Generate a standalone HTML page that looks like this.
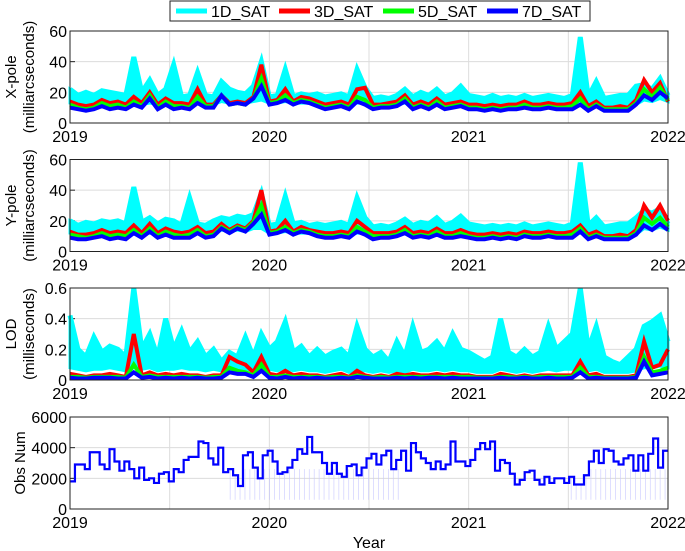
<!DOCTYPE html>
<html><head><meta charset="utf-8"><style>
body{margin:0;background:#fff;}
svg{display:block;font-family:"Liberation Sans",sans-serif;}
</style></head><body>
<svg id="chart" width="685" height="551" xmlns="http://www.w3.org/2000/svg"></svg>
<script>
const years=[2019,2020,2021,2022];
const xpole1D=[22,18,20,18,21,20,19,18,43,20,28,18,22,38,17,18,33,18,17,27,22,20,19,24,40,17,18,35,17,19,18,19,17,18,19,17,35,23,16,17,16,18,22,17,20,18,22,17,19,24,18,17,16,18,16,17,16,18,16,17,18,17,16,18,56,17,27,16,17,18,18,24,25,22,29,18];
const xpole1DLow=[13,12,12,12,13,12,12,12,13,12,13,12,13,12,12,12,13,12,12,14,13,13,13,14,15,13,13,14,13,13,13,12,12,12,12,12,13,13,12,12,12,12,13,12,12,12,13,12,12,13,12,11,11,11,11,11,11,12,11,11,12,11,11,12,13,11,12,11,11,11,11,12,15,14,16,14];
const xpole3D=[14,12,11,12,15,13,14,12,17,13,20,12,16,13,13,12,22,12,12,18,13,14,13,17,38,14,15,22,14,17,16,14,12,13,14,12,22,23,12,12,13,14,18,12,14,12,16,12,13,14,12,12,11,12,11,12,12,14,12,12,13,12,12,13,20,11,14,10,10,11,10,15,28,20,26,14];
const xpole5D=[12,10,9,10,13,11,12,10,14,11,18,10,14,11,11,10,17,11,11,18,12,13,12,16,29,13,14,18,13,15,14,12,10,11,12,10,17,15,10,11,11,12,16,10,12,10,14,10,11,12,10,10,9,10,9,10,10,12,10,10,11,10,10,11,16,9,12,9,9,9,9,13,22,17,23,15];
const xpole7D=[10,9,8,9,11,9,10,9,12,10,16,9,12,9,10,9,13,10,10,18,12,13,12,16,24,12,13,15,12,14,13,11,9,10,11,9,14,12,9,10,10,11,14,9,11,9,12,9,10,11,9,9,8,9,8,9,9,10,9,9,10,9,9,9,12,8,11,8,8,8,8,12,18,15,20,16];
const ypole1D=[20,17,19,18,20,19,20,18,42,19,22,18,21,20,17,35,18,17,20,22,21,23,22,24,38,17,18,36,18,19,17,18,17,18,19,17,35,22,16,17,16,18,21,17,19,18,22,17,19,23,18,17,16,17,16,17,16,18,16,17,18,17,16,18,58,17,22,16,17,18,18,22,27,25,28,18];
const ypole1DLow=[12,11,11,11,12,11,12,11,12,11,12,11,12,12,11,12,12,11,12,14,13,14,13,15,15,12,12,13,12,12,12,12,11,11,12,11,12,12,11,11,11,11,12,11,11,11,12,11,11,12,11,10,10,11,10,11,10,11,11,11,11,11,11,12,12,10,11,10,10,10,10,11,15,14,16,14];
const ypole3D=[13,11,11,12,14,12,13,12,17,12,18,12,15,13,12,13,16,12,13,18,14,17,15,20,40,13,14,20,13,16,14,13,12,12,13,12,20,16,12,12,12,13,16,12,13,12,15,12,12,14,12,11,11,12,11,12,11,13,12,12,13,12,12,13,17,11,13,10,10,11,10,14,30,22,30,20];
const ypole5D=[11,10,9,10,12,10,11,10,14,10,15,10,13,11,10,11,14,10,11,16,13,16,14,19,30,12,13,16,12,14,13,11,10,10,11,10,16,13,10,10,10,11,14,10,11,10,13,10,10,12,10,9,9,10,9,10,9,11,10,10,11,10,10,11,15,9,11,9,9,9,9,12,22,18,22,16];
const ypole7D=[9,8,8,9,10,8,9,8,12,9,13,9,11,9,9,9,12,9,10,15,12,15,13,18,24,11,12,14,11,13,12,10,9,9,10,9,13,11,8,9,9,10,12,9,10,9,11,9,9,10,9,8,8,9,8,9,8,10,9,9,10,9,9,9,13,8,10,8,8,8,8,11,17,14,18,14];
const lod1D=[0.42,0.2,0.15,0.28,0.18,0.22,0.2,0.15,0.6,0.2,0.3,0.15,0.4,0.2,0.32,0.18,0.25,0.15,0.2,0.12,0.18,0.15,0.28,0.15,0.3,0.2,0.25,0.38,0.18,0.22,0.15,0.2,0.15,0.18,0.2,0.15,0.35,0.2,0.15,0.18,0.12,0.25,0.15,0.35,0.18,0.2,0.25,0.18,0.3,0.2,0.18,0.15,0.12,0.15,0.4,0.18,0.15,0.2,0.15,0.18,0.35,0.2,0.25,0.3,0.6,0.2,0.35,0.15,0.12,0.1,0.15,0.2,0.35,0.38,0.42,0.25];
const lod1DLow=[0.08,0.07,0.06,0.07,0.07,0.08,0.07,0.06,0.08,0.07,0.08,0.06,0.07,0.07,0.08,0.07,0.07,0.06,0.07,0.06,0.07,0.06,0.07,0.06,0.07,0.07,0.06,0.08,0.06,0.07,0.06,0.06,0.05,0.06,0.07,0.05,0.07,0.06,0.05,0.06,0.05,0.06,0.05,0.07,0.06,0.06,0.07,0.06,0.07,0.06,0.06,0.05,0.05,0.05,0.07,0.06,0.05,0.06,0.05,0.06,0.07,0.06,0.07,0.07,0.08,0.06,0.07,0.05,0.05,0.05,0.05,0.06,0.08,0.08,0.09,0.08];
const lod3D=[0.04,0.03,0.02,0.03,0.03,0.04,0.03,0.02,0.3,0.03,0.05,0.03,0.04,0.03,0.04,0.03,0.03,0.02,0.03,0.03,0.15,0.12,0.1,0.05,0.15,0.04,0.03,0.06,0.03,0.04,0.03,0.03,0.02,0.03,0.04,0.02,0.06,0.03,0.02,0.03,0.02,0.04,0.03,0.04,0.03,0.03,0.04,0.03,0.04,0.03,0.03,0.02,0.02,0.02,0.04,0.03,0.02,0.03,0.02,0.03,0.03,0.03,0.03,0.03,0.12,0.03,0.04,0.02,0.02,0.02,0.02,0.03,0.25,0.08,0.1,0.2];
const lod5D=[0.02,0.02,0.015,0.02,0.02,0.02,0.02,0.015,0.1,0.02,0.03,0.02,0.02,0.02,0.02,0.02,0.02,0.015,0.02,0.02,0.08,0.06,0.05,0.03,0.1,0.02,0.02,0.03,0.02,0.02,0.02,0.02,0.015,0.02,0.02,0.015,0.03,0.02,0.015,0.02,0.015,0.02,0.02,0.02,0.02,0.02,0.02,0.02,0.02,0.02,0.02,0.015,0.015,0.015,0.02,0.02,0.015,0.02,0.015,0.02,0.02,0.02,0.02,0.02,0.08,0.02,0.02,0.015,0.015,0.015,0.015,0.02,0.15,0.05,0.06,0.08];
const lod7D=[0.015,0.01,0.01,0.015,0.015,0.015,0.01,0.01,0.05,0.015,0.02,0.01,0.015,0.01,0.015,0.01,0.015,0.01,0.01,0.015,0.05,0.04,0.04,0.02,0.06,0.015,0.01,0.02,0.01,0.015,0.01,0.015,0.01,0.01,0.015,0.01,0.02,0.015,0.01,0.01,0.01,0.015,0.01,0.015,0.01,0.015,0.015,0.01,0.015,0.01,0.01,0.01,0.01,0.01,0.015,0.01,0.01,0.015,0.01,0.01,0.015,0.01,0.01,0.015,0.05,0.01,0.015,0.01,0.01,0.01,0.01,0.015,0.12,0.03,0.04,0.05];
const obsNum=[1800,2900,2900,2600,3700,3700,2900,2600,3900,3100,2500,3100,2600,2000,2700,1900,2000,1700,2300,2400,1800,2600,2400,3200,3400,3400,4400,4300,3300,2900,4000,2400,2600,2200,1500,3500,3700,2700,2000,3500,3800,3100,2300,2400,2700,3200,3900,3600,4700,3700,3700,3000,2300,3000,2300,2100,2800,2900,2200,2700,3300,3600,2900,3500,3800,2600,3200,3800,2500,4300,3700,3300,3000,2600,3100,2600,2900,4400,3100,3100,2800,3200,3900,4300,3900,4400,2500,3200,3000,2300,1600,1900,2400,2500,1900,1600,2100,1700,2000,2000,1700,2100,1600,1600,2200,3100,3800,3000,3900,3800,3100,2900,3300,3500,2500,3500,2500,3600,4600,2700,3800];
const xpoleTicks=[0,20,40,60], lodTicks=[0,0.2,0.4,0.6], obsTicks=[0,2000,4000,6000];
const seriesNames=['1D_SAT','3D_SAT','5D_SAT','7D_SAT'];
const colors=['#00ffff','#ff0000','#00ff00','#0000ff'];

const svg=document.getElementById('chart');
const NS='http://www.w3.org/2000/svg';
function mk(tag,attrs,parent){const e=document.createElementNS(NS,tag);for(const k in attrs)e.setAttribute(k,attrs[k]);(parent||svg).appendChild(e);return e;}
const L=70,R=668,H=92;
const xs=t=>L+(t-2019)/3*(R-L);

function panel(top,ymax,ticks,fmt,name,label1,label2){
  const g=mk('g',{});
  
  
  const ys=v=>top+H-(v/ymax)*H;
  for(const t of [2019.5,2020,2020.5,2021,2021.5]){
    const l=mk('line',{x1:xs(t),x2:xs(t),y1:top,y2:top+H,stroke:'#dcdcdc','stroke-width':1},g);
    
  }
  ticks.forEach(v=>{
    if(v>0&&v<ymax){const l=mk('line',{x1:L,x2:R,y1:ys(v),y2:ys(v),stroke:'#dcdcdc','stroke-width':1},g);
    }
    const tx=mk('text',{x:L-3,y:ys(v)+6,'text-anchor':'end','font-size':16},g);tx.textContent=fmt(v);
    
    mk('line',{x1:L,x2:L+5,y1:ys(v),y2:ys(v),stroke:'#222'},g);
  });
  years.forEach(y=>{
    const tx=mk('text',{x:xs(y),y:top+H+19,'text-anchor':'middle','font-size':16},g);tx.textContent=y;
    
  });
  const yl=mk('text',{transform:`translate(${label2?16:25},${top+H/2}) rotate(-90)`,'text-anchor':'middle','font-size':15},g);
  
  const t1=mk('tspan',{x:0,dy:0},yl);t1.textContent=label1;
  if(label2){const t2=mk('tspan',{x:0,dy:18},yl);t2.textContent=label2;}
  return {g,ys};
}
function frame(g,top){const r=mk('rect',{x:L,y:top,width:R-L,height:H,fill:'none',stroke:'#222','stroke-width':1},g);
  }
function series(p,arr,i,w,top){
  const n=arr.length;const pts=arr.map((v,k)=>xs(2019+k*3/(n-1))+','+Math.max(top,p.ys(v))).join(' ');
  const pl=mk('polyline',{points:pts,fill:'none',stroke:colors[i],'stroke-width':w,'stroke-linejoin':'miter'},p.g);
  
  
}
function band(p,hi,lo,top){
  const n=hi.length;
  const up=hi.map((v,k)=>xs(2019+k*3/(n-1))+','+Math.max(top,p.ys(v)));
  const dn=lo.map((v,k)=>xs(2019+k*3/(n-1))+','+p.ys(v)).reverse();
  const pg=mk('polygon',{points:up.concat(dn).join(' '),fill:colors[0],stroke:colors[0],'stroke-width':3},p.g);
  
  
}
const tops=[31,159.5,288,417];
const widths=[5,4,4,4];
const p1=panel(tops[0],60,xpoleTicks,v=>v,'x-pole-panel','X-pole','(milliarcseconds)');
band(p1,xpole1D,xpole1DLow,tops[0]);
[xpole1D,xpole3D,xpole5D,xpole7D].forEach((a,i)=>series(p1,a,i,widths[i],tops[0]));frame(p1.g,tops[0]);
const p2=panel(tops[1],60,xpoleTicks,v=>v,'y-pole-panel','Y-pole','(milliarcseconds)');
band(p2,ypole1D,ypole1DLow,tops[1]);
[ypole1D,ypole3D,ypole5D,ypole7D].forEach((a,i)=>series(p2,a,i,widths[i],tops[1]));frame(p2.g,tops[1]);
const p3=panel(tops[2],0.6,lodTicks,v=>v===0?'0':v.toFixed(1),'lod-panel','LOD','(milliseconds)');
band(p3,lod1D,lod1DLow,tops[2]);
[lod1D,lod3D,lod5D,lod7D].forEach((a,i)=>series(p3,a,i,widths[i],tops[2]));frame(p3.g,tops[2]);
const p4=panel(tops[3],6000,obsTicks,v=>v,'obs-num-panel','Obs Num',null);
{
  const n=obsNum.length,dt=3/n;let d='';
  obsNum.forEach((v,k)=>{const x0=xs(2019+k*dt),x1=xs(2019+(k+1)*dt),y=p4.ys(v);
    d+=(k===0?'M':'L')+x0+','+y+'L'+x1+','+y;
    const t=2019+k*dt;
    if((t>2019.78&&t<2020.65)||(t>2021.5)){const fl=mk('line',{x1:x0+2,x2:x0+2,y1:p4.ys(600),y2:p4.ys(Math.min(v,2600)),stroke:'#c8c8ff','stroke-width':0.6},p4.g);
      }
  });
  const pa=mk('path',{d,fill:'none',stroke:'#0000ff','stroke-width':2.2},p4.g);
  
}
frame(p4.g,tops[3]);
const xt=mk('text',{x:(L+R)/2,y:548,'text-anchor':'middle','font-size':16});xt.textContent='Year';

const lg=mk('g',{});

mk('rect',{x:170,y:1,width:420,height:20,fill:'#fff',stroke:'#222'},lg);
const lx=[176,279,383,487];
seriesNames.forEach((s,i)=>{
  const e=mk('g',{},lg);
  
  mk('line',{x1:lx[i],x2:lx[i]+31,y1:11,y2:11,stroke:colors[i],'stroke-width':5},e);
  const t=mk('text',{x:lx[i]+35,y:17,'font-size':16},e);t.textContent=s;
});
</script>
</body></html>
